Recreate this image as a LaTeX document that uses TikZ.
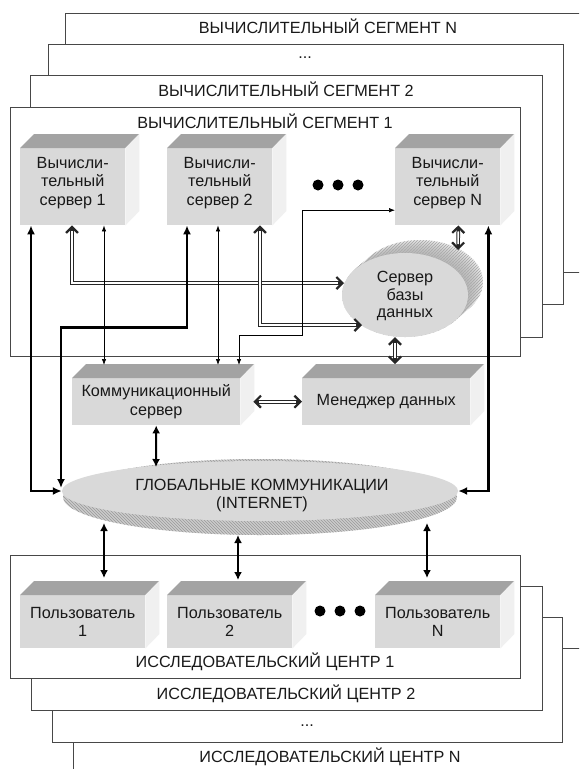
\documentclass[tikz,border=0pt]{standalone}
\usepackage{fontspec}
\setmainfont{Liberation Sans}
\usetikzlibrary{arrows.meta,shapes.geometric,patterns}
\newcommand\cubebox[6]{%
  \node[frontface, minimum width=#4pt, minimum height=#5pt, anchor=north west] (#1) at (#2,#3) {};
  \fill[topface] (#1.north west) -- ++(#6,-#6) -- ++(#4,0) -- (#1.north east) -- cycle;
  \fill[sideface] (#1.north east) -- ++(#6,-#6) -- ++(0,#5) -- (#1.south east) -- cycle;
}
\begin{document}
\begin{tikzpicture}[x=1pt,y=-1pt,
  every node/.style={font=\fontsize{16.2}{18.5}\selectfont, inner sep=0pt, text=black!90},
  frame/.style={draw=black!72, line width=0.9pt, fill=white},
  frontface/.style={fill=black!15, draw=none},
  topface/.style={fill=black!36},
  sideface/.style={fill=black!6},
  dotnode/.style={circle, fill=black, minimum size=11pt},
  thk/.style={line width=2.4pt, arrows={Latex[length=9pt,width=8pt]-Latex[length=9pt,width=8pt]}},
  med/.style={line width=2pt, arrows={Latex[length=8pt,width=8pt]-Latex[length=8pt,width=8pt]}},
  thn/.style={line width=0.7pt, arrows={Latex[length=6pt,width=4.5pt]-Latex[length=6pt,width=4.5pt]}},
  barb/.tip={Straight Barb[length=6pt 0 0,width=12pt 0 0,line width=2.2pt 0 0]},
  dbl/.style={preaction={draw=black!85, line width=3.6pt, shorten <=0pt, shorten >=0pt, arrows={barb-barb}},
    draw=white, line width=1.6pt, shorten <=6pt, shorten >=6pt},
]
\useasboundingbox (0,0) rectangle (579,769);
\clip (0,0) rectangle (579,769);
\fill[white] (0,0) rectangle (579,769);

% computing segments (back to front)
\draw[frame] (65,13) rectangle (600,272);
\node (segN) at (328,26) {ВЫЧИСЛИТЕЛЬНЫЙ СЕГМЕНТ N};
\draw[frame] (48,44) rectangle (563,304);
\node (segD) at (305,58) {...};
\draw[frame] (30,75) rectangle (542,337);
\node (seg2) at (286,89) {ВЫЧИСЛИТЕЛЬНЫЙ СЕГМЕНТ 2};
\draw[frame] (10,107) rectangle (520,356);
\node (seg1) at (265,121) {ВЫЧИСЛИТЕЛЬНЫЙ СЕГМЕНТ 1};

% research centres (back to front)
\draw[frame] (73,648) rectangle (600,790);
\node (rcN) at (330,757) {ИССЛЕДОВАТЕЛЬСКИЙ ЦЕНТР N};
\draw[frame] (52,617) rectangle (562,742);
\node (rcD) at (307,726) {...};
\draw[frame] (31,586) rectangle (542,710);
\node (rc2) at (286,694) {ИССЛЕДОВАТЕЛЬСКИЙ ЦЕНТР 2};
\draw[frame] (10,555) rectangle (520,678);
\node (rc1) at (265,662) {ИССЛЕДОВАТЕЛЬСКИЙ ЦЕНТР 1};

% computing servers
\cubebox{s1}{20}{148}{105}{77}{14}
\cubebox{s2}{167}{148}{105}{77}{14}
\cubebox{sN}{395}{148}{105}{77}{14}
\node[align=center] (t1) at ([yshift=4pt]s1.center) {Вычисли-\\тельный\\сервер 1};
\node[align=center] (t2) at ([yshift=4pt]s2.center) {Вычисли-\\тельный\\сервер 2};
\node[align=center] (tN) at ([yshift=4pt]sN.center) {Вычисли-\\тельный\\сервер N};
\node[dotnode] (d1) at (318,185) {};
\node[dotnode] (d2) at (338,185) {};
\node[dotnode] (d3) at (358,185) {};

% database server
\foreach \i in {0,...,16} \fill[black!9] ({420-\i*15/16},{282+\i*13/16}) ellipse [x radius=63, y radius=42];
\foreach \i in {0,...,16} \fill[pattern=north east lines, pattern color=black!32] ({420-\i*15/16},{282+\i*13/16}) ellipse [x radius=63, y radius=42];
\node[ellipse, fill=black!15, minimum width=126pt, minimum height=84pt] (db) at (405,295) {};
\node[align=center, font=\fontsize{16.2}{17.5}\selectfont] (tdb) at (405,296) {Сервер\\базы\\данных};

% communication server and data manager
\cubebox{comm}{72}{378}{168}{47}{14}
\cubebox{mgr}{302}{378}{168}{47}{14}
\node[align=center] (tc) at (comm.center) {Коммуникационный\\сервер};
\node (tm) at (mgr.center) {Менеджер данных};

% global communications
\fill[black!20] (260,497) ellipse [x radius=197, y radius=38];
\fill[pattern=north west lines, pattern color=black!40] (260,497) ellipse [x radius=197, y radius=38];
\node[ellipse, fill=black!15, minimum width=396pt, minimum height=60pt] (glob) at (260,491) {};
\node[align=center, font=\fontsize{16.2}{18}\selectfont] (tg) at (262,496) {ГЛОБАЛЬНЫЕ КОММУНИКАЦИИ\\(INTERNET)};

% users
\cubebox{u1}{20}{595}{125}{53}{14}
\cubebox{u2}{167}{595}{125}{53}{14}
\cubebox{uN}{375}{595}{125}{53}{14}
\node[align=center] (tu1) at (u1.center) {Пользователь\\1};
\node[align=center] (tu2) at (u2.center) {Пользователь\\2};
\node[align=center] (tuN) at (uN.center) {Пользователь\\N};
\node[dotnode] (e1) at (320,611) {};
\node[dotnode] (e2) at (340,611) {};
\node[dotnode] (e3) at (360,611) {};

% free ends of connectors
\coordinate (gIn2) at (61,488);
\coordinate (dbA) at (344,283);
\coordinate (dbB) at (362,325);
\coordinate (dbT) at (458,250);
\coordinate (mgrT) at (395,364);
\coordinate (cT1) at (104,365);
\coordinate (cT2) at (218,365);
\coordinate (cT3) at (239,365);
\coordinate (gT) at (156,467);
\coordinate (gB1) at (104,523);
\coordinate (gB2) at (238,535);
\coordinate (gBN) at (427,523);
\coordinate (uT1) at (104,578);
\coordinate (uT2) at (238,580);
\coordinate (uTN) at (427,578);

% connectors
\draw[dbl] ([xshift=52pt]s1.south west) |- (dbA);
\draw[dbl] ([xshift=93pt]s2.south west) |- (dbB);
\draw[thn] ([xshift=84pt]s1.south west) -- (cT1);
\draw[thn] ([xshift=51pt]s2.south west) -- (cT2);
\draw[thn] (cT3) -- ++(0,-30) -- ++(63,0) |- ([yshift=-23.5pt]sN.west);
\draw[thk] ([xshift=11pt]s1.south west) |- (glob.west);
\draw[thk] ([xshift=20pt]s2.south west) -- ++(0,102) -| (gIn2);
\draw[thk] ([xshift=-12pt]sN.south east) |- (glob.east);
\draw[dbl] ([xshift=-42pt]sN.south east) -- (dbT);
\draw[dbl] ([xshift=-10pt]db.south) -- (mgrT);
\draw[dbl] ([xshift=13pt]comm.east) -- (mgr.west);
\draw[med] (comm.south) -- (gT);
\draw[med] (gB1) -- (uT1);
\draw[med] (gB2) -- (uT2);
\draw[med] (gBN) -- (uTN);
\end{tikzpicture}
\end{document}
